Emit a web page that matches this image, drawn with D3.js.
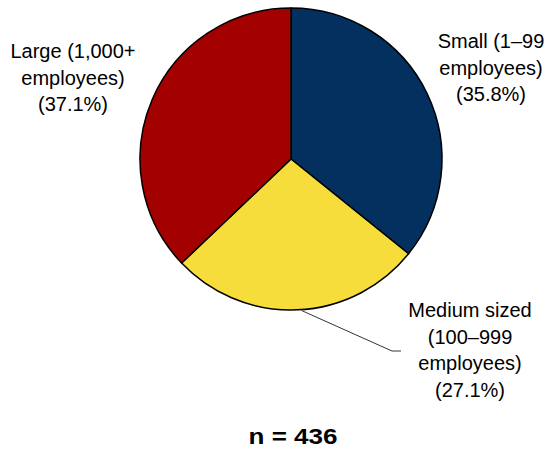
<!DOCTYPE html>
<html>
<head>
<meta charset="utf-8">
<script src="https://cdn.jsdelivr.net/npm/d3@7"></script>
<style>
  html, body { margin: 0; padding: 0; background: #fff; }
  svg text { font-family: "Liberation Sans", Arial, sans-serif; fill: #000; }
</style>
</head>
<body>
<svg id="chart" width="550" height="450"></svg>
<script>
// Company size breakdown
const categories = ["Small", "Medium sized", "Large"];
const values = [35.8, 27.1, 37.1];
const labelLines = [
  ["Small (1\u201399", "employees)", "(35.8%)"],
  ["Medium sized", "(100\u2013999", "employees)", "(27.1%)"],
  ["Large (1,000+", "employees)", "(37.1%)"]
];
const sliceColors = ["#03305f", "#f7dd3b", "#a30000"];
const sampleSize = 436;

const svg = d3.select("#chart");
const cx = 291, cy = 159, radius = 151;

const color = d3.scaleOrdinal()
  .domain(categories)
  .range(sliceColors);

const pie = d3.pie().sort(null).value(d => d.value);
const arcs = pie(categories.map((c, i) => ({ name: c, value: values[i] })));
const arc = d3.arc().innerRadius(0).outerRadius(radius);

const g = svg.append("g").attr("transform", `translate(${cx},${cy})`);
g.selectAll("path")
  .data(arcs)
  .join("path")
  .attr("d", arc)
  .attr("fill", d => color(d.data.name))
  .attr("stroke", "#000")
  .attr("stroke-width", 1.5)
  .attr("stroke-linejoin", "round");

// label anchors (centre x, first baseline y)
const labelPos = [
  { x: 491, y: 48 },
  { x: 470, y: 317 },
  { x: 73, y: 58 }
];
const lineHeight = 26.5;

labelLines.forEach((lines, i) => {
  const t = svg.append("text")
    .attr("text-anchor", "middle")
    .attr("font-size", 20);
  lines.forEach((s, j) => {
    t.append("tspan")
      .attr("x", labelPos[i].x)
      .attr("y", labelPos[i].y + j * lineHeight)
      .text(s);
  });
});

// leader line for the medium slice
const mid = arcs[1];
const a = (mid.startAngle + mid.endAngle) / 2 - 0.03;
const p0 = [cx + Math.sin(a) * (radius + 1), cy - Math.cos(a) * (radius + 1)];
svg.append("polyline")
  .attr("points", [p0, [392, 351], [401, 351]].map(p => p.join(",")).join(" "))
  .attr("fill", "none")
  .attr("stroke", "#000")
  .attr("stroke-width", 0.8);

svg.append("text")
  .attr("x", 293)
  .attr("y", 444)
  .attr("text-anchor", "middle")
  .attr("font-size", 22.5)
  .attr("font-weight", "bold")
  .attr("textLength", 89)
  .attr("lengthAdjust", "spacingAndGlyphs")
  .text(`n = ${sampleSize}`);
</script>
</body>
</html>
